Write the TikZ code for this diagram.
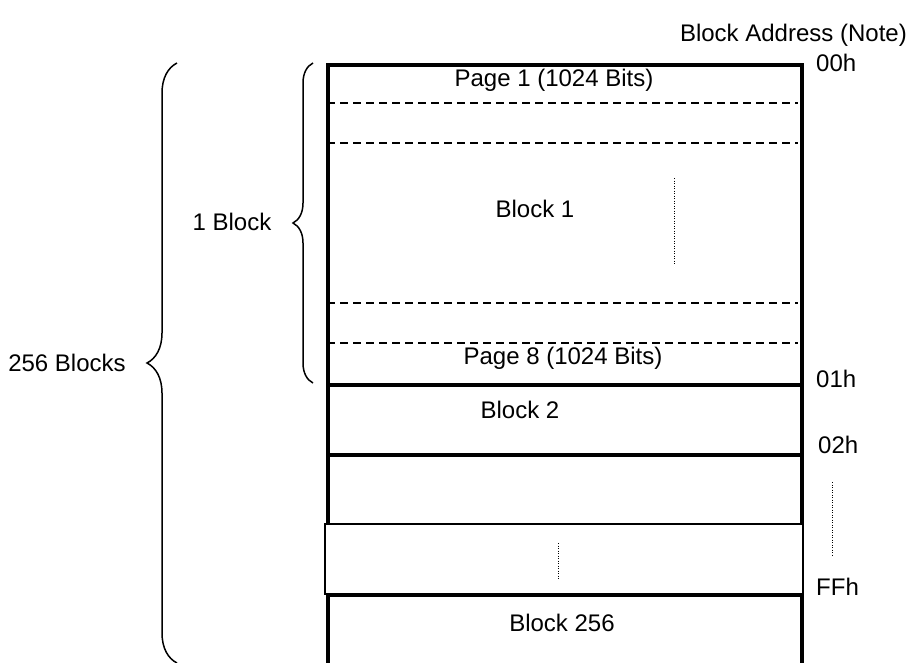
\documentclass[tikz,border=0pt]{standalone}
\usepackage{fontspec}
\setmainfont{Liberation Sans}
\usetikzlibrary{decorations.pathreplacing}
\begin{document}
\begin{tikzpicture}[x=1pt, y=-1pt, every node/.style={font=\fontsize{24}{28}\selectfont, inner sep=0pt}, blk/.style={draw, line width=3.5pt, minimum width=474pt, anchor=north west}, gapbox/.style={draw, fill=white, line width=1.5pt, minimum width=478pt, minimum height=70pt, anchor=north west}, pageline/.style={line width=1.4pt, dash pattern=on 8pt off 5pt}, dots/.style={line width=1pt, dash pattern=on 1pt off 1.5pt}, brc/.style={decorate, line width=1.5pt}]
\clip (0,0) rectangle (908,662);
% block column
\node[blk, minimum height=320pt] (b1) at (326,63) {}; \node[blk, minimum height=70pt] (b2) at (326,383) {}; \node[blk, minimum height=70pt] (b3) at (326,453) {};
\node[gapbox] (gap) at (324,523) {}; \node[blk, minimum height=120pt] (b256) at (326,593) {};
\foreach \y in {103,143,303,343} \draw[pageline] (327,\y) -- (798,\y);
\node (p1) at (554,80) {Page 1 (1024 Bits)}; \node (t1) at (535,209) {Block 1}; \node (p8) at (563,358) {Page 8 (1024 Bits)};
\node (t2) at (520,410) {Block 2}; \node (t256) at (562,623) {Block 256};
\draw[dots] (674,178) -- (674,265); \draw[dots] (558,543) -- (558,580);
% addresses
\node[anchor=east] (hdr) at (907,35) {Block Address (Note)};
\node[anchor=west] (a00) at (816,63) {00h}; \node[anchor=west] (a01) at (816,379) {01h}; \node[anchor=west] (a02) at (818,445) {02h}; \node[anchor=west] (aff) at (816,587) {FFh};
\draw[dots] (832,482) -- (832,555);
% braces
\draw[brc, decoration={brace, amplitude=20pt}] (313,383) -- (313,63);
\draw[brc, decoration={brace, amplitude=30pt}] (177,663) -- (177,63);
\node (one) at (232,222) {1 Block}; \node (all) at (67,363) {256 Blocks};
\end{tikzpicture}
\end{document}
